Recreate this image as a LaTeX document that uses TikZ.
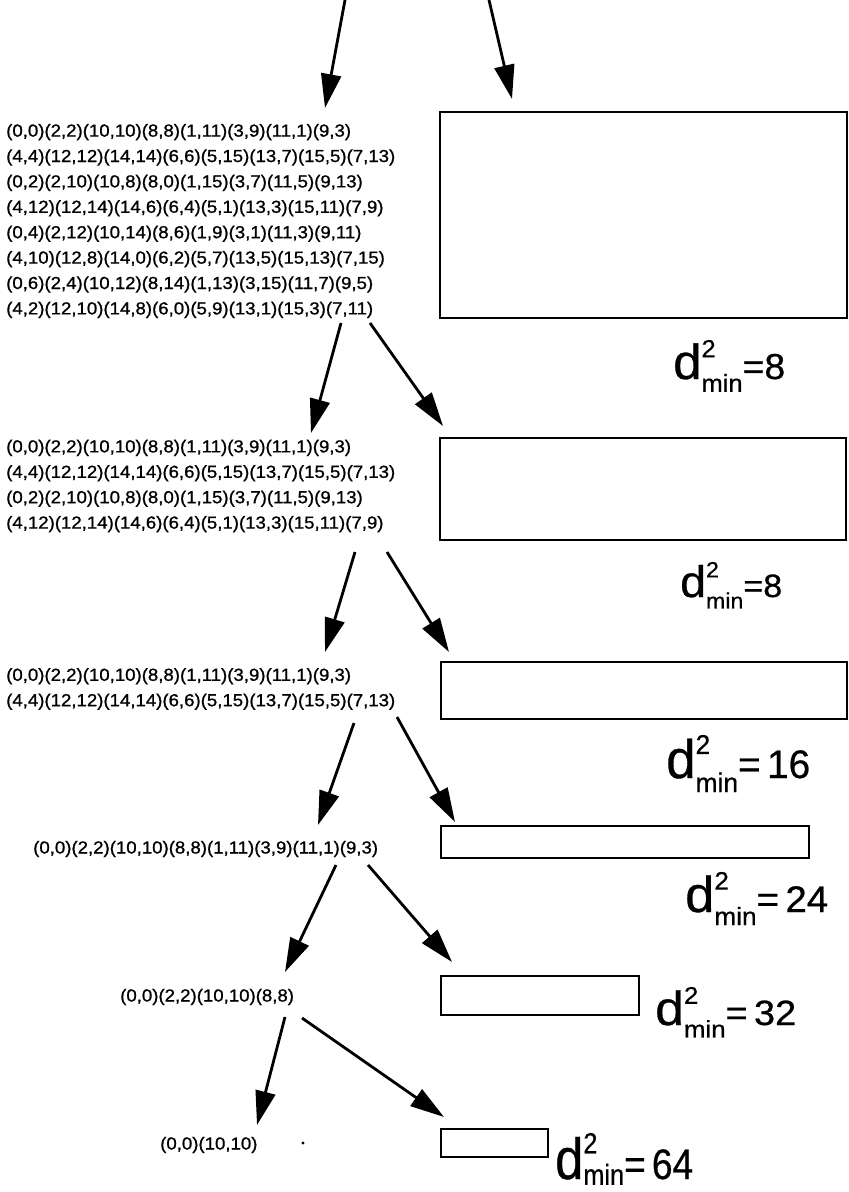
\documentclass[tikz,border=0pt]{standalone}
\usepackage{fontspec}
\setmainfont{Liberation Sans}
\newfontfamily\scanfont[FakeStretch=1.07,FakeBold=1]{Liberation Sans}
\newfontfamily\labfont[FakeBold=0.6]{Liberation Sans}
\usetikzlibrary{arrows.meta}
\newcommand{\dcore}[2]{{\labfont\fontsize{30}{30}\selectfont d}\rlap{\raisebox{13.3pt}{\labfont\fontsize{15}{15}\selectfont 2}}\raisebox{#1}{\labfont\fontsize{15}{15}\selectfont min}{\labfont\fontsize{22}{22}\selectfont =#2}}
\newcommand{\dlab}[4][-7.8pt]{\resizebox{#2pt}{#3pt}{\dcore{#1}{#4}}}
\begin{document}
\begin{tikzpicture}[x=1pt,y=-1pt,
  txt/.style={font=\scanfont\fontsize{17.4}{25.4}\selectfont, align=left, inner sep=0pt, anchor=west},
  box/.style={draw, line width=2.6pt, inner sep=0pt, outer sep=0pt, anchor=north west},
  lab/.style={inner sep=0pt, anchor=base west},
  arr/.style={line width=2.8pt, -{Triangle[length=34pt,width=20pt]}}]
\useasboundingbox (0,0) rectangle (849,1192);
% text blocks
\node[txt] (t1) at (6,221) {(0,0)(2,2)(10,10)(8,8)(1,11)(3,9)(11,1)(9,3)\\
(4,4)(12,12)(14,14)(6,6)(5,15)(13,7)(15,5)(7,13)\\
(0,2)(2,10)(10,8)(8,0)(1,15)(3,7)(11,5)(9,13)\\
(4,12)(12,14)(14,6)(6,4)(5,1)(13,3)(15,11)(7,9)\\
(0,4)(2,12)(10,14)(8,6)(1,9)(3,1)(11,3)(9,11)\\
(4,10)(12,8)(14,0)(6,2)(5,7)(13,5)(15,13)(7,15)\\
(0,6)(2,4)(10,12)(8,14)(1,13)(3,15)(11,7)(9,5)\\
(4,2)(12,10)(14,8)(6,0)(5,9)(13,1)(15,3)(7,11)};
\node[txt] (t2) at (6,486) {(0,0)(2,2)(10,10)(8,8)(1,11)(3,9)(11,1)(9,3)\\
(4,4)(12,12)(14,14)(6,6)(5,15)(13,7)(15,5)(7,13)\\
(0,2)(2,10)(10,8)(8,0)(1,15)(3,7)(11,5)(9,13)\\
(4,12)(12,14)(14,6)(6,4)(5,1)(13,3)(15,11)(7,9)};
\node[txt] (t3) at (6,689) {(0,0)(2,2)(10,10)(8,8)(1,11)(3,9)(11,1)(9,3)\\
(4,4)(12,12)(14,14)(6,6)(5,15)(13,7)(15,5)(7,13)};
\node[txt] (t4) at (33,849) {(0,0)(2,2)(10,10)(8,8)(1,11)(3,9)(11,1)(9,3)};
\node[txt] (t5) at (120,997) {(0,0)(2,2)(10,10)(8,8)};
\node[txt] (t6) at (160,1145) {(0,0)(10,10)};
\fill (303,1143) circle (1.6pt);
% boxes
\node[box, minimum width=407pt, minimum height=206pt] (r1) at (440,112) {};
\node[box, minimum width=406pt, minimum height=102pt] (r2) at (440,438) {};
\node[box, minimum width=406pt, minimum height=57pt] (r3) at (441,662) {};
\node[box, minimum width=368pt, minimum height=32pt] (r4) at (441,826) {};
\node[box, minimum width=198pt, minimum height=39pt] (r5) at (441,976) {};
\node[box, minimum width=107pt, minimum height=28pt] (r6) at (441,1129) {};
% labels
\node[lab] (l1) at (673,379) {\dlab{112}{39}{8}};
\node[lab] (l2) at (680,597) {\dlab{102}{35}{8}};
\node[lab] (l3) at (666,778) {\dlab{144}{43}{\,16}};
\node[lab] (l4) at (685,912) {\dlab{143}{40}{\,24}};
\node[lab] (l5) at (655,1025) {\dlab{141}{38}{\,32}};
\node[lab] (l6) at (555,1179) {\dlab[-3pt]{138}{46}{\,64}};
% connector ends
\coordinate (a0ls) at (345,0);   \coordinate (a0le) at (325,108);
\coordinate (a0rs) at (489,0);   \coordinate (a0re) at (512,99);
\coordinate (a1ls) at (341,323); \coordinate (a1le) at (311,433);
\coordinate (a1rs) at (370,323); \coordinate (a1re) at (443,426);
\coordinate (a2ls) at (355,552); \coordinate (a2le) at (325,652);
\coordinate (a2rs) at (387,552); \coordinate (a2re) at (449,652);
\coordinate (a3ls) at (354,723); \coordinate (a3le) at (318,825);
\coordinate (a3rs) at (397,717); \coordinate (a3re) at (455,822);
\coordinate (a4ls) at (336,865); \coordinate (a4le) at (285,972);
\coordinate (a4rs) at (368,865); \coordinate (a4re) at (452,962);
\coordinate (a5ls) at (285,1017); \coordinate (a5le) at (257,1125);
\coordinate (a5rs) at (302,1018); \coordinate (a5re) at (444,1117);
\draw[arr] (a0ls) -- (a0le);
\draw[arr] (a0rs) -- (a0re);
\draw[arr] (a1ls) -- (a1le);
\draw[arr] (a1rs) -- (a1re);
\draw[arr] (a2ls) -- (a2le);
\draw[arr] (a2rs) -- (a2re);
\draw[arr] (a3ls) -- (a3le);
\draw[arr] (a3rs) -- (a3re);
\draw[arr] (a4ls) -- (a4le);
\draw[arr] (a4rs) -- (a4re);
\draw[arr] (a5ls) -- (a5le);
\draw[arr] (a5rs) -- (a5re);
\end{tikzpicture}
\end{document}
